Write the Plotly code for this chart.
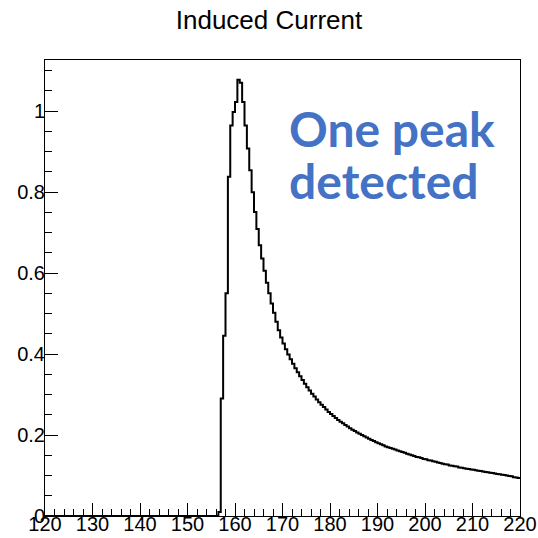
import numpy as np
import plotly.graph_objects as go

# Histogram: 200 bins of width 0.5 from 120 to 220
x_min, x_max, bin_width = 120.0, 220.0, 0.5

# bin contents (bins 120.0 .. 156.0 are empty)
values_empty = [0.0] * 73
values_rise_peak = [
    0.010, 0.290, 0.445, 0.550, 0.838, 0.965, 0.998, 1.023, 1.078, 1.070,
    1.023, 0.965, 0.908, 0.854, 0.800, 0.751, 0.709, 0.669, 0.636, 0.606,
    0.576, 0.550, 0.525, 0.502, 0.480, 0.459, 0.441, 0.426,
]
values_tail = [
    0.412, 0.399, 0.387, 0.376, 0.365, 0.355, 0.345, 0.336, 0.327, 0.318,
    0.310, 0.302, 0.295, 0.288, 0.281, 0.275, 0.269, 0.263, 0.257, 0.252,
    0.247, 0.242, 0.237, 0.233, 0.229, 0.225, 0.221, 0.217, 0.213, 0.210,
    0.206, 0.203, 0.200, 0.197, 0.194, 0.191, 0.188, 0.185, 0.182, 0.180,
    0.177, 0.175, 0.172, 0.170, 0.168, 0.166, 0.164, 0.162, 0.160, 0.158,
    0.156, 0.154, 0.152, 0.150, 0.148, 0.146, 0.145, 0.143, 0.141, 0.140,
    0.138, 0.137, 0.135, 0.134, 0.132, 0.131, 0.129, 0.128, 0.127, 0.125,
    0.124, 0.123, 0.122, 0.120, 0.119, 0.118, 0.117, 0.116, 0.115, 0.114,
    0.113, 0.112, 0.111, 0.110, 0.109, 0.108, 0.107, 0.106, 0.105, 0.104,
    0.103, 0.102, 0.101, 0.100, 0.099, 0.098, 0.096, 0.095, 0.094,
]
values = values_empty + values_rise_peak + values_tail

n_bins = int(round((x_max - x_min) / bin_width))
assert len(values) == n_bins, len(values)
edges = x_min + bin_width * np.arange(n_bins + 1)

title_text = "Induced Current"
note_lines = ["One peak", "detected"]

x_ticks = list(range(120, 221, 10))
y_ticks = [0, 0.2, 0.4, 0.6, 0.8, 1]
y_top = max(values) * 1.045

fig = go.Figure()
fig.add_trace(go.Scatter(
    x=edges, y=values + [values[-1]],
    mode="lines", line=dict(shape="hv", color="black", width=2),
    hoverinfo="skip", showlegend=False,
))

axis_common = dict(
    showgrid=False, zeroline=False, showline=True, linecolor="black",
    linewidth=1, mirror=True, ticks="inside", tickcolor="black",
    tickwidth=1, ticklen=13, automargin=False,
    tickfont=dict(family="Liberation Sans, Arial, sans-serif", size=20, color="black"),
)
fig.update_xaxes(
    range=[x_min, x_max], tickvals=x_ticks, ticklabelstandoff=-10,
    minor=dict(ticks="inside", ticklen=7, dtick=2, tick0=120, tickcolor="black"),
    **axis_common,
)
fig.update_yaxes(
    range=[0, y_top], tickvals=y_ticks, ticklabelstandoff=-5,
    minor=dict(ticks="inside", ticklen=7, dtick=0.05, tick0=0, tickcolor="black"),
    **axis_common,
)

fig.update_layout(
    width=538, height=538, autosize=False,
    margin=dict(l=45, r=18, t=60, b=22),
    paper_bgcolor="white", plot_bgcolor="white",
    title=dict(text=title_text, x=0.5, xref="container", xanchor="center",
               y=1 - 20 / 538, yref="container", yanchor="middle",
               font=dict(family="Liberation Sans, Arial, sans-serif", size=26, color="black")),
)

note_font = dict(family="Lato, sans-serif", size=48, color="#4472C4", weight="bold")
for i, line in enumerate(note_lines):
    fig.add_annotation(
        text=line, xref="paper", yref="paper",
        x=(287 - 45) / (520 - 45), xanchor="left",
        y=(516 - (148 + 52 * i)) / (516 - 60), yanchor="bottom",
        showarrow=False, font=note_font, yshift=-11,
    )

fig.write_html("out.html")
